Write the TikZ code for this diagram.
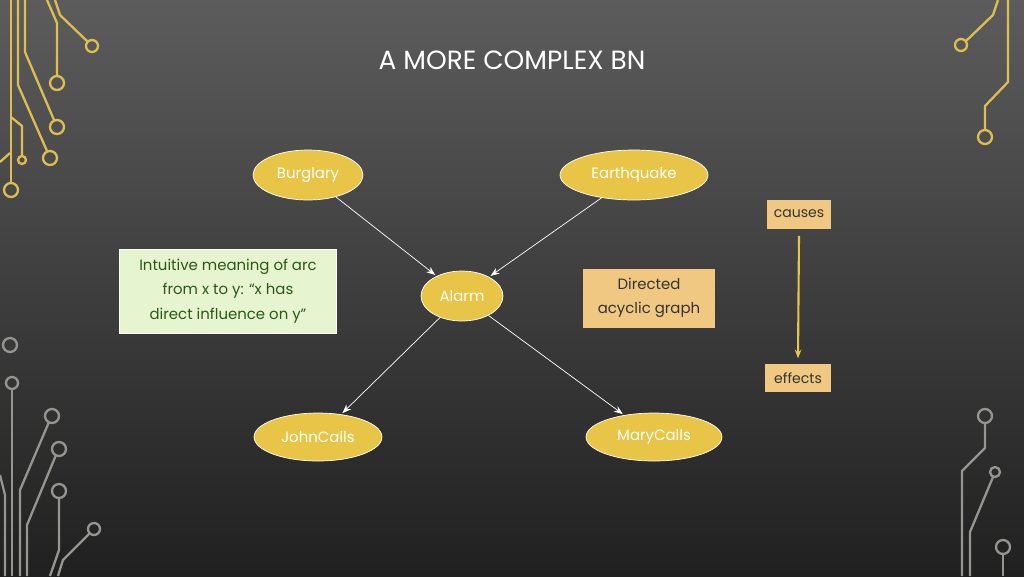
\documentclass[tikz,border=0pt]{standalone}
\usepackage{fontspec}
\setmainfont{Poppins}
\usetikzlibrary{shapes.geometric,arrows.meta}
\definecolor{gold}{RGB}{232,197,71}
\definecolor{wire}{RGB}{222,190,80}
\definecolor{wiregray}{RGB}{150,150,145}
\definecolor{greenbox}{RGB}{230,245,208}
\definecolor{greentext}{RGB}{40,90,20}
\definecolor{tanbox}{RGB}{241,200,130}
\begin{document}
\begin{tikzpicture}[x=0.02cm,y=-0.02cm,
  bnnode/.style={ellipse,draw=white,thin,fill=gold,text=white,font=\fontsize{8.5}{10}\selectfont,inner sep=0pt},
  tag/.style={draw=none,fill=tanbox,font=\fontsize{8}{10}\selectfont,text=black!80},
  arc/.style={white,-{Stealth[length=5pt]},shorten >=1pt},
  gw/.style={wire,line width=1.3pt},
  sw/.style={wiregray,line width=1.3pt}]
  \shade[top color={rgb,255:red,92;green,92;blue,92},bottom color={rgb,255:red,32;green,32;blue,32}] (0,0) rectangle (1024,576);%background
  \useasboundingbox (0,0) rectangle (1024,576);
  % circuit lines top left
  \draw[gw] (11,0) -- (11,183); \draw[gw] (11,190) circle (7);
  \draw[gw] (18,0) -- (18,85) -- (47,151); \draw[gw] (50,158) circle (7);
  \draw[gw] (25,0) -- (25,52) -- (54,120); \draw[gw] (57,127) circle (7);
  \draw[gw] (47,0) -- (57,23) -- (57,76); \draw[gw] (57,83) circle (7);
  \draw[gw] (55,0) -- (60,15) -- (88,42); \draw[gw] (92,46) circle (6);
  \draw[gw] (11,117) -- (22,126) -- (22,156); \draw[gw] (22,160) circle (4);
  \draw[gw] (0,162) -- (10,153);
  % circuit lines top right
  \draw[gw] (1008,0) -- (1008,82) -- (985,106) -- (985,130); \draw[gw] (985,137) circle (7);
  \draw[gw] (998,0) -- (993,15) -- (966,41); \draw[gw] (961,45) circle (6);
  % circuit lines bottom left
  \draw[sw] (10,345) circle (7);
  \draw[sw] (12,383) circle (6); \draw[sw] (12,389) -- (12,576);
  \draw[sw] (0,475) -- (5,495) -- (5,576);
  \draw[sw] (49,422) -- (20,490) -- (20,576); \draw[sw] (52,416) circle (7);
  \draw[sw] (56,455) -- (27,525) -- (27,576); \draw[sw] (59,449) circle (7);
  \draw[sw] (59,498) -- (59,550) -- (50,576); \draw[sw] (59,491) circle (7);
  \draw[sw] (90,533) -- (63,560) -- (58,576); \draw[sw] (94,529) circle (6);
  % circuit lines bottom right
  \draw[sw] (985,423) -- (985,448) -- (962,471) -- (962,576); \draw[sw] (985,416) circle (7);
  \draw[sw] (993,477) -- (970,532) -- (970,576); \draw[sw] (995,472) circle (5);
  \draw[sw] (1003,554) -- (1003,576); \draw[sw] (1003,547) circle (7);
  % title
  \node[text=white,font=\fontsize{15}{18}\selectfont] (title) at (512,60) {A MORE COMPLEX BN};
  % network
  \node[bnnode,minimum width=2.2cm,minimum height=1cm] (burglary) at (308,175) {Burglary};
  \node[bnnode,minimum width=2.96cm,minimum height=1cm] (earthquake) at (634,175) {Earthquake};
  \node[bnnode,minimum width=1.64cm,minimum height=1cm] (alarm) at (462,296) {Alarm};
  \node[bnnode,minimum width=2.56cm,minimum height=0.96cm] (john) at (318,437) {JohnCalls};
  \node[bnnode,minimum width=2.72cm,minimum height=0.96cm] (mary) at (654,437) {MaryCalls};
  \draw[arc] (burglary) -- (alarm);
  \draw[arc] (earthquake) -- (alarm);
  \draw[arc] (alarm) -- (john);
  \draw[arc] (alarm) -- (mary);
  % boxes
  \node[draw=white,fill=greenbox,text=greentext,align=center,minimum width=4.34cm,minimum height=1.68cm,inner sep=0pt,
    font=\fontsize{8.5}{14}\selectfont] (meaning) at (228,291) {Intuitive meaning of arc\\from x to y: “x has\\direct influence on y”};
  \node[tag,align=center,minimum width=2.64cm,minimum height=1.18cm,inner sep=0pt,font=\fontsize{8.5}{14}\selectfont] (dag) at (649,298) {Directed\\acyclic graph};
  \node[tag,minimum width=1.28cm,minimum height=0.58cm,inner sep=0pt] (causes) at (799,214) {causes};
  \node[tag,minimum width=1.32cm,minimum height=0.56cm,inner sep=0pt] (effects) at (798,378) {effects};
  \draw[gold,line width=1.2pt,-{Stealth[length=5pt]}] ([yshift=-4pt]causes.south) -- ([yshift=3pt]effects.north);
\end{tikzpicture}
\end{document}
